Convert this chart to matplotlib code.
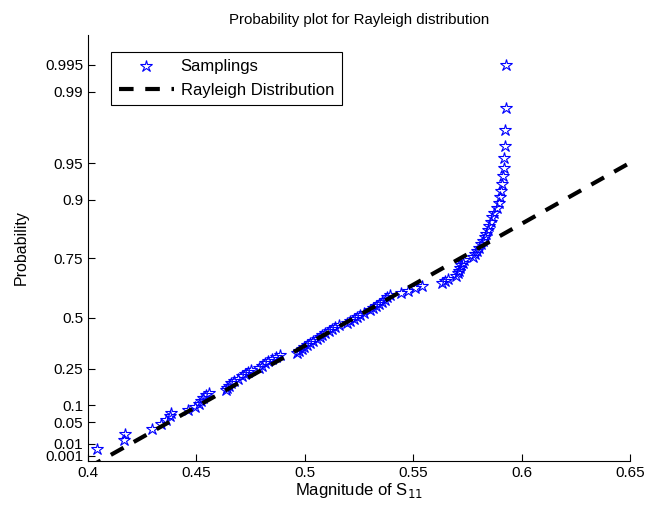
import numpy as np
import matplotlib.pyplot as plt

plt.rcParams['font.family'] = ['Liberation Sans', 'DejaVu Sans']

# sorted magnitudes of S11 (100 samples)
samples = [0.4043, 0.4168, 0.4172, 0.4297, 0.4335, 0.4361, 0.4377, 0.4384, 0.4461, 0.4492,
           0.4510, 0.4522, 0.4530, 0.4545, 0.4558, 0.4636, 0.4641, 0.4650, 0.4662, 0.4675,
           0.4690, 0.4712, 0.4725, 0.4738, 0.4752, 0.4790, 0.4805, 0.4818, 0.4832, 0.4848,
           0.4865, 0.4885, 0.4962, 0.4975, 0.4988, 0.4998, 0.5008, 0.5025, 0.5040, 0.5055,
           0.5068, 0.5080, 0.5095, 0.5110, 0.5125, 0.5140, 0.5160, 0.5195, 0.5210, 0.5225,
           0.5240, 0.5255, 0.5275, 0.5300, 0.5315, 0.5330, 0.5342, 0.5355, 0.5368, 0.5380,
           0.5395, 0.5445, 0.5475, 0.5510, 0.5540, 0.5632, 0.5645, 0.5660, 0.5698, 0.5705,
           0.5712, 0.5718, 0.5722, 0.5728, 0.5735, 0.5775, 0.5785, 0.5795, 0.5805, 0.5812,
           0.5820, 0.5830, 0.5838, 0.5845, 0.5852, 0.5858, 0.5865, 0.5875, 0.5885, 0.5895,
           0.5902, 0.5905, 0.5910, 0.5914, 0.5917, 0.5920, 0.5922, 0.5925, 0.5927, 0.5928]

# fitted (shifted) Rayleigh reference line: location and scale
fit_loc = 0.4055
fit_scale = 0.0998

prob_ticks = [0.001, 0.01, 0.05, 0.1, 0.25, 0.5, 0.75, 0.9, 0.95, 0.99, 0.995]
prob_labels = ['0.001', '0.01', '0.05', '0.1', '0.25', '0.5', '0.75', '0.9', '0.95', '0.99', '0.995']
x_ticks = [0.4, 0.45, 0.5, 0.55, 0.6, 0.65]


def rayl_q(p):
    # Rayleigh quantile (sigma = 1) -> linear position on probability paper
    return np.sqrt(-2 * np.log(1 - np.asarray(p)))


n = len(samples)
pp = (np.arange(1, n + 1) - 0.5) / n

fig = plt.figure(figsize=(6.45, 5.11), dpi=100)
ax = fig.add_axes([0.1364, 0.0978, 0.8403, 0.8337])

ax.plot(samples, rayl_q(pp), linestyle='none', marker='*', markersize=9,
        markerfacecolor='none', markeredgecolor='blue', markeredgewidth=0.8,
        label='Samplings')

xl = np.array([0.4, 0.65])
ax.plot(xl, (xl - fit_loc) / fit_scale, color='black', linestyle=(0, (3.5, 2.8)),
        linewidth=3, label='Rayleigh Distribution')

ax.set_xlim(0.4, 0.65)
ax.set_ylim(0, 3.5)
ax.set_xticks(x_ticks)
ax.set_xticklabels([f'{t:g}' for t in x_ticks])
ax.set_yticks(rayl_q(prob_ticks))
ax.set_yticklabels(prob_labels)
ax.tick_params(direction='in', labelsize=11, length=5)
ax.spines['top'].set_visible(False)
ax.spines['right'].set_visible(False)

ax.set_title('Probability plot for Rayleigh distribution', fontsize=10.8, pad=8)
ax.set_xlabel('Magnitude of S$_{11}$', fontsize=12, labelpad=1)
ax.set_ylabel('Probability', fontsize=11.5, labelpad=12)

leg = ax.legend(loc='upper left', bbox_to_anchor=(0.028, 0.98), fancybox=False,
                framealpha=1, edgecolor='black', fontsize=12, handlelength=3.3,
                borderpad=0.45, labelspacing=0.5, handletextpad=0.4)
leg.get_frame().set_linewidth(0.8)

fig.savefig('out.png', dpi=100)
